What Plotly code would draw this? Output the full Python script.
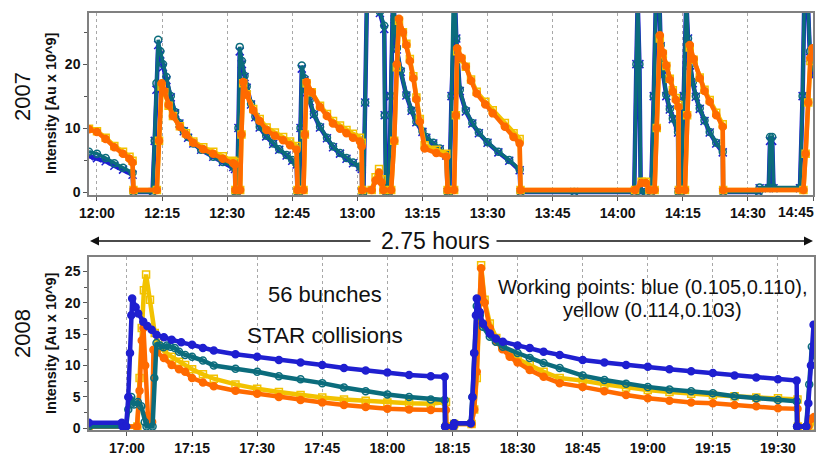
import plotly.graph_objects as go
import pandas as pd

# ---------------- DATA (minutes after the base hour) ----------------
# 2007: base 12:00
t07_bt = [-1.84, 0, 2, 4, 6, 8.2, 8.4, 12.8, 13.3, 13.7, 14.1, 14.6, 15.2, 16, 17, 18, 19, 20, 21, 22.2, 24, 26.8, 29, 31.4, 31.8,
          31.9, 32.3, 32.6, 32.9, 33.4, 34, 34.5, 35.5, 36.5, 37.5, 39, 40.6, 42, 43.7, 45, 46, 46.2, 46.6, 46.9, 47.2, 47.8,
          48.4, 49, 50, 51.4, 53, 54.4, 56, 57.5, 59, 60.6, 61.0, 61.1, 61.4, 61.8, 62.2, 65.0, 65.2, 66.2, 66.3, 66.6, 67.3,
          67.7, 68.2, 68.6, 69.1, 70, 71.3, 72.5, 73.6, 75, 75.9, 77.5, 79, 80.5, 80.8, 81.2, 81.7, 82.1, 82.5, 82.8, 83.6,
          85, 86.5, 88, 90, 92.5, 95, 97.4, 97.6, 110, 123.8, 124.3, 124.6, 125.0, 125.3, 126.5, 127.7, 128.3, 128.8, 129.6,
          129.9, 130.5, 131.2, 132, 132.7, 133.9, 134.0, 134.6, 135.2, 135.8, 136.2, 136.7, 137.3, 138, 138.9, 140, 141.2,
          142.7, 144.2, 144.3, 152.5, 152.7, 154.8, 155.1, 155.6, 155.9, 162, 162.6, 163.0, 163.8, 164.3, 164.9]
teal07 = [6.3, 6.0, 5.3, 4.5, 3.8, 3.0, 0, 0, 8, 17, 23.8, 22, 20, 18, 15, 12.5, 10.8, 9.6, 8.6, 7.6, 6.6, 5.5, 4.7, 4.0, 3.7,
          0, 0, 10, 22.7, 20.5, 18.2, 16.5, 13.8, 11.8, 10.2, 8.8, 7.6, 6.7, 5.8, 5.0, 4.4, 0, 0, 10, 19.8, 17.8,
          15.8, 14.4, 12.2, 10.2, 8.5, 7.1, 6.1, 5.3, 4.6, 4.0, 3.7, 0, 0, 14, 30, 30, 28.2, 26, 12, 0, 0,
          15, 30, 27, 22.5, 19, 15.2, 12.8, 11, 9.5, 8.6, 7.7, 6.8, 5.8, 0, 0, 15, 30, 30, 24, 16,
          12.8, 10.8, 9.3, 7.8, 6.3, 5.0, 3.5, 0, 0, 0, 20, 30, 20, 0, 0, 0, 15, 30, 30,
          23, 18.5, 15.2, 13, 11.5, 9.4, 0, 0, 15, 30, 24, 20, 17.2, 15, 13.1, 11.2, 9.4,
          7.7, 6.3, 0, 0, 0.7, 0.7, 8.6, 8.6, 0.7, 0.7, 15, 30, 30, 22, 18.8]
blue07 = [5.6, 5.3, 4.8, 4.1, 3.5, 2.7, 0, 0, 8, 16, 23, 21.5, 19.5, 17.5, 14.8, 12.3, 10.7, 9.5, 8.5, 7.6, 6.6, 5.5, 4.7, 3.9, 3.6,
          0, 0, 10, 22, 20, 18, 16.3, 13.7, 11.7, 10.1, 8.7, 7.5, 6.6, 5.7, 4.9, 4.3, 0, 0, 10, 19.3, 17.5,
          15.6, 14.2, 12.1, 10.1, 8.4, 7.0, 6.0, 5.2, 4.5, 3.9, 3.6, 0, 0, 14, 30, 30, 28, 25.5, 12, 0, 0,
          15, 30, 27, 22.3, 18.8, 15.1, 12.7, 10.9, 9.4, 8.5, 7.6, 6.7, 5.7, 0, 0, 15, 30, 30, 24, 15.8,
          12.6, 10.7, 9.2, 7.7, 6.2, 4.9, 3.4, 0, 0, 0, 20, 30, 20, 0, 0, 0, 15, 30, 30,
          22.8, 18.3, 15.0, 12.9, 11.4, 9.3, 0, 0, 15, 30, 24, 19.8, 17.0, 14.9, 13.0, 11.1, 9.3,
          7.6, 6.2, 0, 0, 0.6, 0.6, 8, 8, 0.6, 0.6, 15, 30, 30, 21, 18]

t07_yo = [-1.84, 0, 2, 4, 6, 7.5, 8.2, 8.4, 13.8, 14.3, 14.9, 15.5, 16.5, 17.5, 19.1, 20.5, 22.2, 24.5, 26.8, 29, 31.4, 31.8,
          31.9, 33.0, 33.3, 33.7, 34.5, 36, 37.5, 39.1, 41, 42.9, 44.5, 46, 46.2, 47.6, 47.9, 48.3, 49.5, 51.4, 53, 54.4,
          56, 57.5, 59, 60.6, 61.0, 61.1, 63.3, 64.2, 65.0, 65.6, 66.0, 67.8, 68.5, 69.1, 69.6, 70.5, 71.3, 72.1, 72.9,
          73.6, 74.4, 75.5, 78.2, 80.5, 80.8, 82.3, 82.7, 83.0, 84, 85, 86.2, 87.5, 89.5, 91.2, 94, 96, 97.4, 97.6, 124,
          125.5, 126.5, 127.3, 128.5, 129.0, 129.7, 130.4, 131.2, 132, 132.7, 133.4, 134.0, 134.1, 135.5, 136.0, 136.6,
          137.5, 138.9, 140, 141.2, 142.7, 144.2, 144.3, 162.8, 163.3, 163.9, 164.4, 164.9]
orange07 = [9.8, 9.4, 8.3, 7.0, 6.0, 5.2, 4.6, 0.3, 0.3, 8, 17, 15.8, 13.6, 11.9, 10.2, 9.0, 7.7, 6.7, 6.0, 5.2, 4.5, 4.3,
            0.3, 0.3, 9, 17.2, 15.2, 12.8, 11.1, 9.7, 8.8, 8.1, 7.3, 6.6, 0.3, 0.3, 9, 17.2, 15.6, 13.3, 11.9, 10.7,
            9.9, 9.2, 8.5, 7.9, 7.1, 0.3, 0.3, 1.8, 3.0, 1.5, 0.3, 0.3, 8, 20, 27.1, 25, 23, 20.5, 17.8,
            14.5, 11, 6.8, 6.1, 5.5, 0.3, 0.3, 12, 22.5, 21, 19.6, 17.4, 15.4, 13.7, 12.3, 10.2, 8.6, 7.6, 0.3, 0.3,
            1.4, 1.4, 0.3, 0.3, 10, 24.5, 21.8, 19.8, 17.6, 15.7, 14.4, 13.3, 0.3, 0.3, 12, 23,
            20.8, 17.8, 15.8, 14.1, 12, 10.2, 0.3, 0.3, 6, 14, 21, 22.5]
yellow07 = [9.9, 9.5, 8.5, 7.2, 6.3, 5.5, 4.9, 0.3, 0.3, 8, 16.5, 15.6, 13.5, 11.9, 10.3, 9.2, 7.9, 7.0, 6.3, 5.6, 4.9, 4.7,
            0.3, 0.3, 9, 17, 15.3, 13.0, 11.4, 10.1, 9.3, 8.6, 7.9, 7.2, 0.3, 0.3, 9, 17, 15.6, 13.5, 12.2, 11.1,
            10.4, 9.7, 9.1, 8.5, 7.7, 0.3, 0.3, 2.3, 3.6, 2.0, 0.3, 0.3, 8, 19.5, 26.8, 25, 23.2, 20.8, 18.1,
            14.8, 11.4, 7.3, 6.6, 6.0, 0.3, 0.3, 12, 22, 20.8, 19.6, 17.6, 15.7, 14.1, 12.8, 10.8, 9.2, 8.3, 0.3, 0.3,
            1.6, 1.6, 0.3, 0.3, 10, 24, 21.6, 19.7, 17.7, 15.9, 14.7, 13.6, 0.3, 0.3, 12, 22.6,
            20.7, 17.9, 16.0, 14.4, 12.4, 10.6, 0.3, 0.3, 6, 14, 20.5, 22]

# 2008: base 17:00
t08_blue = [-8.8, -1.2, -1.0, -0.2, 0.3, 0.7, 1.0, 1.2, 2.0, 2.6, 3.75, 4.7, 5.7, 6.8, 8.5, 10.3, 12.5, 15, 17.5, 20, 25, 30,
            35, 40, 45, 50, 55, 60, 65, 70, 73.2, 73.3, 75.2, 75.4, 79.2, 79.6, 80.0, 80.4, 80.6, 81.3, 82, 83.6, 85, 86.6,
            90, 92.8, 96, 99.7, 105, 110, 115, 120, 125, 130, 135, 140, 145, 150, 154.3, 154.4, 156.5, 157.0, 157.6, 158.2]
blue08 = [0.9, 0.9, 0.3, 0.3, 5, 12, 18, 20.7, 19.3, 18.3, 17, 16.3, 15.7, 14.9, 14.5, 14.1, 13.7, 13.3, 12.8, 12.4, 11.8, 11.4,
          10.9, 10.5, 10.1, 9.6, 9.2, 8.9, 8.5, 8.3, 8.2, 0.3, 0.3, 0.8, 0.8, 5, 12, 18, 20.7, 18.5, 16.7, 15.1, 14.3, 13.8,
          13.2, 12.8, 12.2, 11.7, 10.9, 10.5, 10.1, 9.8, 9.4, 9.1, 8.8, 8.4, 8.1, 7.8, 7.6, 0.3, 0.3, 4, 10, 16.5]

t08_teal = [-8.8, -0.2, 0.3, 1.0, 1.6, 2.5, 3.3, 4.1, 4.5, 5.9, 6.3, 6.8, 7.6, 8.4, 9.2, 10, 11, 12, 13.4, 15, 17.5, 20, 25,
            30, 35, 40, 45, 50, 55, 60, 65, 70, 73.2, 73.3, 75.2, 75.4, 79.2, 79.6, 80.0, 80.6, 81.3, 82, 83.6, 85, 86.6,
            90, 92.8, 96, 99.7, 105, 110, 115, 120, 125, 130, 135, 140, 145, 150, 154.3, 154.4, 156.5, 157.2, 157.8, 158.3]
teal08 = [0.3, 0.3, 3, 5, 3.8, 4.2, 3.5, 1, 0.3, 0.3, 8, 13.6, 13.2, 12.9, 13.2, 13, 12.8, 12.2, 11.7, 11.4, 10.8, 10.0, 9.5,
          9.0, 8.3, 7.8, 7.2, 6.5, 5.9, 5.4, 5.0, 4.6, 4.5, 0.3, 0.3, 0.8, 0.8, 5, 12, 19.5, 18, 16.2, 14.6, 13.8, 13.0,
          12, 11.2, 10.4, 9.6, 8.4, 7.7, 7.1, 6.6, 6.2, 5.9, 5.6, 5.1, 4.8, 4.5, 4.3, 0.3, 0.3, 7, 13, 11]

t08_yellow = [-8.8, 2.4, 2.9, 3.4, 3.9, 4.4, 5.3, 6.4, 7.2, 8.5, 10.3, 12, 13.4, 15, 17.5, 20, 25, 30, 35, 40, 45, 50, 55,
              60, 65, 70, 73.5, 73.6, 75.2, 75.4, 79.4, 80.0, 80.6, 81.1, 81.6, 82.4, 83.6, 85.1, 86.5, 88.2, 90, 92.8,
              96, 99.7, 105, 110, 115, 120, 125, 130, 135, 140, 145, 150, 154.5, 154.6, 157.6, 158.3]
yellow08 = [0.3, 0.3, 8, 16, 22, 24.5, 20.5, 15.2, 13.6, 12.3, 11.4, 10.6, 10.1, 9.4, 8.6, 7.9, 7.0, 6.3, 5.8, 5.3, 4.9, 4.6,
            4.4, 4.1, 4.0, 3.9, 4.2, 0.3, 0.3, 0.7, 0.7, 3, 8, 17, 26, 20.5, 16.7, 14.4, 13.1, 12, 11.1, 10.1,
            9.0, 8.0, 7.6, 7.0, 6.5, 6.1, 5.8, 5.5, 5.3, 5.1, 4.9, 4.8, 4.6, 0.3, 0.3, 1.5]

t08_orange = [-8.8, 2.3, 2.9, 3.4, 3.8, 4.2, 4.6, 4.9, 5.8, 6.1, 6.8, 8.5, 10.3, 12, 13.4, 15, 17.5, 20, 25, 30, 35, 40, 45,
              50, 55, 60, 65, 70, 73.5, 73.6, 75.2, 75.4, 79.4, 80.0, 80.6, 81.1, 81.6, 82.4, 83.6, 85.1, 86.5, 88.2, 90,
              92.8, 96, 99.7, 105, 110, 115, 120, 125, 130, 135, 140, 145, 150, 154.5, 154.6, 157, 157.6, 158.3]
orange08 = [0.3, 0.3, 6, 14, 16, 10, 2, 1, 1, 12.5, 12.2, 11.2, 10.1, 9.4, 9.0, 8.0, 7.3, 6.7, 6.0, 5.5, 5.0, 4.5, 4.1,
            3.7, 3.4, 3.1, 3.0, 2.9, 2.9, 0.3, 0.3, 0.7, 0.7, 3, 9, 18, 25.5, 20, 16, 13.8, 12.6, 11.4, 10.5,
            9.3, 8.2, 7.2, 6.6, 5.9, 5.3, 4.8, 4.4, 4.1, 4.0, 3.7, 3.5, 3.2, 3.1, 0.3, 0.3, 1.5, 1.8]

base07 = pd.Timestamp("2007-06-01 12:00")
base08 = pd.Timestamp("2008-06-01 17:00")
end07 = base07 + pd.Timedelta(minutes=165)   # 14:45, right edge of the 2007 panel


def tt(base, mins):
    return [base + pd.Timedelta(minutes=m) for m in mins]


BLUE = "#1f1fd0"
TEAL = "#0b6c7c"
YELLOW = "#f2c200"
ORANGE = "#ff6a00"

fig = go.Figure()


def add(x, y, color, symbol, xa, ya, lw=4.5, ms=7):
    fig.add_trace(go.Scatter(
        x=x, y=y, mode="lines+markers", xaxis=xa, yaxis=ya, showlegend=False,
        line=dict(color=color, width=lw),
        marker=dict(symbol=symbol, size=ms, color=color, line=dict(color=color, width=1.5)),
    ))


# 2007 panel
add(tt(base07, t07_bt), blue07, BLUE, "x-thin-open", "x", "y", lw=4.5, ms=8)
add(tt(base07, t07_bt), teal07, TEAL, "circle-open", "x", "y", lw=3.5)
add(tt(base07, t07_yo), yellow07, YELLOW, "square-open", "x", "y")
add(tt(base07, t07_yo), orange07, ORANGE, "circle", "x", "y")

# 2008 panel
add(tt(base08, t08_yellow), yellow08, YELLOW, "square-open", "x2", "y2")
add(tt(base08, t08_orange), orange08, ORANGE, "circle", "x2", "y2")
add(tt(base08, t08_teal), teal08, TEAL, "circle-open", "x2", "y2")
add(tt(base08, t08_blue), blue08, BLUE, "circle", "x2", "y2")

W, H = 831, 455
FONT = "Liberation Sans, Arial, Helvetica, sans-serif"
tickfont = dict(family=FONT, size=14, color="#111", weight="bold")

common_x = dict(type="date", tickformat="%H:%M", dtick=15 * 60 * 1000, showgrid=True, gridcolor="#a8a8a8",
                griddash="dot", gridwidth=1, showline=True, linecolor="#808080", linewidth=1.5, mirror=True,
                ticks="outside", ticklen=4, tickcolor="#555", tickfont=tickfont, zeroline=False, automargin=False)
common_y = dict(showgrid=False, showline=True, linecolor="#808080", linewidth=1.5, mirror=True,
                ticks="outside", ticklen=4, tickcolor="#555", tickfont=tickfont, zeroline=False, automargin=False)

fig.update_layout(
    width=W, height=H, margin=dict(l=0, r=0, t=0, b=0),
    paper_bgcolor="white", plot_bgcolor="white",
    xaxis=dict(common_x, domain=[89 / W, 813 / W], anchor="y",
               range=[base07 - pd.Timedelta(minutes=1.84), end07],
               tick0=base07),
    yaxis=dict(common_y, domain=[1 - 195 / H, 1 - 13 / H], anchor="x", range=[-0.47, 28.0],
               tickvals=[0, 10, 20], minor=dict(tickvals=[5, 15, 25], ticks="outside", ticklen=3, tickcolor="#555")),
    xaxis2=dict(common_x, domain=[89 / W, 814 / W], anchor="y2",
                range=[base08 - pd.Timedelta(minutes=8.75), base08 + pd.Timedelta(minutes=158.3)],
                tick0=base08),
    yaxis2=dict(common_y, domain=[1 - 430 / H, 1 - 257 / H], anchor="x2", range=[-0.27, 27.3],
                tickvals=[0, 5, 10, 15, 20, 25],
                minor=dict(tickvals=[2.5, 7.5, 12.5, 17.5, 22.5], ticks="outside", ticklen=3, tickcolor="#555")),
)

# last tick label of the 2007 axis sits at the panel edge: draw it right-aligned there
fig.add_annotation(x=end07, xref="x", y=1 - 212 / H, yref="paper", text="14:45", showarrow=False,
                   xanchor="right", yanchor="middle", xshift=3, font=tickfont)


def txt(x, y, s, size, angle=0, bold=False):
    fig.add_annotation(x=x / W, y=1 - y / H, xref="paper", yref="paper", text=s, showarrow=False,
                       textangle=angle, xanchor="center", yanchor="middle",
                       font=dict(family=FONT, size=size, color="#111", weight="bold" if bold else "normal"))


txt(22, 97, "2007", 22, -90)
txt(22, 334, "2008", 22, -90)
txt(51, 103, "Intensity [Au x 10^9]", 14.5, -90, bold=True)
txt(51, 343, "Intensity [Au x 10^9]", 14.5, -90, bold=True)
txt(435, 241, "2.75 hours", 23)
txt(325, 294, "56 bunches", 22)
txt(325, 335, "STAR collisions", 22.5)
txt(652, 287, "Working points: blue (0.105,0.110),", 20)
txt(652, 310, "yellow (0.114,0.103)", 20)

# double-headed span arrow
for head_x, tail_x in [(90, 372), (813, 495)]:
    fig.add_annotation(x=head_x / W, y=1 - 241 / H, xref="paper", yref="paper", ax=tail_x - head_x, ay=0,
                       text="", showarrow=True, arrowhead=2, arrowsize=1.2, arrowwidth=1.5, arrowcolor="#111")

fig.write_html("out.html")
